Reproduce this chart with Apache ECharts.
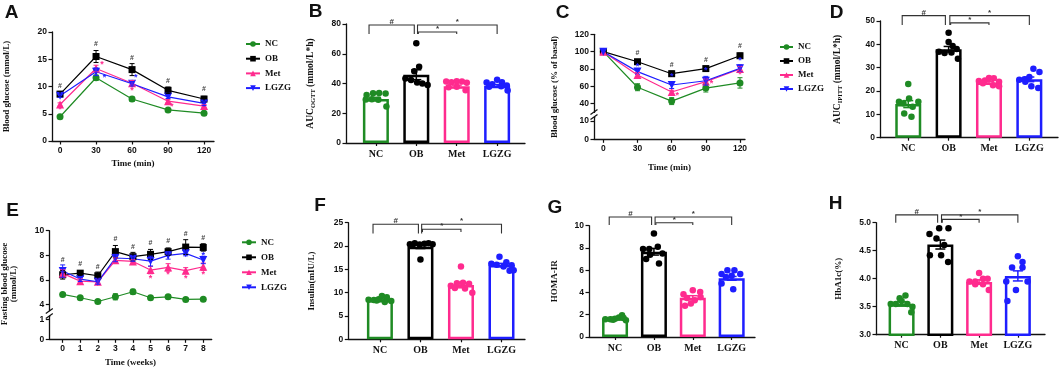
<!DOCTYPE html>
<html>
<head>
<meta charset="utf-8">
<script src="https://cdn.jsdelivr.net/npm/echarts@6/dist/echarts.min.js"></script>
<style>
  html, body { margin: 0; padding: 0; background: #fff; }
  #main { width: 1059px; height: 370px; }
</style>
</head>
<body>
<div id="main"></div>
<script>
// groups and their look
var groups = ['NC', 'OB', 'Met', 'LGZG'];
var groupColors = ['#1f8b24', '#000000', '#ff2b8e', '#1e1eff'];
var groupSymbols = ['circle', 'rect', 'triangle', 'triangle'];
var groupRotate = [0, 0, 0, 180];
var groupSymbolSize = [7, 7, 8, 8];

// A - OGTT blood glucose (mmol/L)
var ogttTime = [0, 30, 60, 90, 120];
var ogttMeans = [
  [4.45, 11.6, 7.7, 5.7, 5.1],
  [8.6, 15.5, 13.1, 9.3, 7.7],
  [6.7, 13.3, 10.6, 7.3, 6.4],
  [8.3, 12.7, 10.5, 8.1, 6.9]
];
var ogttSems = [
  [0.2, 0.5, 0.4, 0.2, 0.2],
  [0.5, 1.1, 1.1, 0.6, 0.5],
  [0.3, 0.6, 0.5, 0.3, 0.3],
  [0.3, 0.7, 0.4, 0.3, 0.4]
];
var ogttHash = [[0, 10.1], [30, 17.7], [60, 15.2], [90, 11], [120, 9.5]];
var ogttStarMet = [[0, 5.7], [35, 14.1], [60, 9.2], [93, 6.4]];
var ogttStarLGZG = [[37, 11.6], [63, 11.6]];

// B - AUC OGTT
var aucOgttMean = [29.6, 45.9, 38.1, 38.5];
var aucOgttSem = [1.1, 3.3, 0.8, 0.8];
var aucOgttDots = [
  [[-0.23, 32.3], [-0.07, 33.4], [0.08, 33.6], [0.24, 33.2], [-0.25, 29.3], [-0.1, 29.4], [0.06, 29.1], [0.26, 24.5]],
  [[0, 67], [0.07, 51.3], [-0.05, 48.2], [-0.27, 43.3], [-0.13, 42.4], [0.02, 40.6], [0.15, 40], [0.28, 39]],
  [[-0.26, 41.3], [-0.13, 40.8], [0, 41.5], [0.13, 41.3], [0.25, 40.5], [-0.2, 37.5], [0, 37.8], [0.22, 35.5]],
  [[-0.26, 40.6], [-0.12, 39.5], [0, 42.5], [0.12, 40.8], [0.24, 38.6], [-0.2, 37.8], [0.1, 38.2], [0.26, 35.3]]
];
var aucOgttBrackets = [[-0.17, 0.95, 79.3, 73.3], [1.03, 3, 79.3, 73.3], [1.05, 2, 74.6, 73.3]];

// C - IPITT blood glucose (% of basal)
var ipittTime = [0, 30, 60, 90, 120];
var ipittMeans = [
  [100, 59, 43, 58, 64],
  [100, 88.4, 74.6, 80.5, 95.3],
  [100, 73, 53.5, 65.5, 80],
  [100, 77, 61.6, 66.5, 80.8]
];
var ipittSems = [
  [0, 4, 4, 4.5, 6],
  [0, 2, 3, 2.5, 3],
  [0, 3, 2, 3, 3],
  [0, 3, 4, 5, 4]
];
var ipittHash = [[30, 98], [60, 84], [90, 90.4], [120, 107]];
var ipittStarMet = [[30, 71.9], [65, 49], [95, 63], [120, 74]];
var ipittStarLGZG = [[30, 82.7], [60, 71.9], [90, 77.7], [120, 90]];

// D - AUC IPITT
var aucIpittMean = [14.4, 37.9, 23.7, 25];
var aucIpittSem = [1.5, 1.2, 0.5, 1.0];
var aucIpittDots = [
  [[0, 23], [-0.23, 15.4], [-0.12, 14.8], [0.02, 16.8], [0.25, 15.4], [0.11, 13.3], [-0.1, 10.4], [0.08, 9]],
  [[0, 45], [0, 41], [0.1, 39.3], [-0.24, 36.8], [-0.1, 36.3], [0.07, 36.5], [0.23, 33.8], [0.2, 38]],
  [[-0.25, 24.3], [-0.1, 24.5], [0, 25.6], [0.12, 25.5], [0.25, 24], [-0.15, 23.3], [0.1, 22.5], [0.25, 22]],
  [[-0.25, 24.8], [-0.12, 25], [0, 26], [0.1, 29.5], [0.25, 28.2], [-0.1, 24], [0.05, 22], [0.22, 21.3]]
];
var aucIpittBrackets = [[-0.15, 0.92, 52.3, 48.3], [1.03, 3, 52.3, 48.3], [1.05, 2, 49.2, 48.3]];

// E - fasting blood glucose (mmol/L)
var fbgWeek = [0, 1, 2, 3, 4, 5, 6, 7, 8];
var fbgMeans = [
  [4.82, 4.55, 4.25, 4.63, 5.04, 4.55, 4.63, 4.42, 4.44],
  [6.42, 6.55, 6.34, 8.3, 7.89, 8.08, 8.3, 8.67, 8.64],
  [6.53, 5.9, 5.85, 7.59, 7.5, 6.8, 7.02, 6.75, 7.07],
  [6.72, 6.07, 5.85, 7.78, 7.72, 7.53, 7.99, 8.16, 7.62]
];
var fbgSems = [
  [0.1, 0.1, 0.15, 0.25, 0.2, 0.15, 0.15, 0.15, 0.1],
  [0.35, 0.2, 0.3, 0.5, 0.35, 0.4, 0.3, 0.6, 0.3],
  [0.3, 0.2, 0.2, 0.2, 0.15, 0.3, 0.3, 0.25, 0.3],
  [0.5, 0.2, 0.2, 0.3, 0.2, 0.4, 0.3, 0.2, 0.3]
];
var fbgHash = [[0, 7.6], [1, 7.3], [2, 7.07], [3, 9.3], [4, 8.65], [5, 8.97], [6, 9.16], [7, 9.7], [8, 9.38]];
var fbgStarMet = [[5, 6.13], [6, 6.4], [7, 6.13], [8, 6.4]];
var fbgStarLGZG = [[8, 8.02]];

// F - insulin (mIU/L)
var insulinMean = [8.4, 19.86, 11.64, 15.93];
var insulinSem = [0.2, 0.4, 0.6, 0.35];
var insulinDots = [
  [[-0.28, 8.5], [-0.15, 8.4], [-0.03, 8.6], [0.05, 9.3], [0.17, 9.0], [0.28, 8.2], [-0.08, 8.3], [0.12, 8.0]],
  [[-0.26, 20.4], [-0.14, 20.6], [-0.02, 20.3], [0.1, 20.5], [0.2, 20.6], [0.3, 20.4], [-0.2, 20.1], [0, 17.1]],
  [[0, 15.6], [-0.25, 11.5], [-0.1, 12.0], [0.05, 12.1], [0.2, 11.9], [-0.15, 11.0], [0.1, 10.9], [0.28, 10.0]],
  [[-0.05, 17.7], [-0.25, 16.2], [-0.12, 16.0], [0.12, 16.5], [0.25, 15.9], [0.05, 15.6], [0.2, 14.7], [0.3, 14.8]]
];
var insulinBrackets = [[-0.17, 0.95, 24.66, 22.7], [1.03, 3, 24.66, 22.7], [1.05, 2, 23.6, 23.0]];

// G - HOMA-IR
var homaMean = [1.68, 7.66, 3.53, 5.27];
var homaSem = [0.07, 0.3, 0.18, 0.17];
var homaDots = [
  [[-0.25, 1.6], [-0.12, 1.6], [0, 1.65], [0.1, 1.75], [0.18, 1.95], [0.28, 1.5], [-0.05, 1.55], [0.22, 1.7]],
  [[0, 9.3], [-0.28, 7.9], [-0.12, 7.9], [0.1, 8.1], [-0.1, 7.4], [0.22, 7.5], [0.13, 6.6], [-0.2, 7.0]],
  [[-0.24, 3.85], [0, 4.2], [0.19, 4.05], [-0.15, 3.5], [0.05, 3.3], [0.2, 3.6], [-0.05, 3.0], [-0.2, 2.8]],
  [[-0.26, 5.65], [-0.11, 6.0], [0.07, 6.0], [0.22, 5.65], [-0.15, 5.4], [0, 5.5], [-0.26, 4.8], [0.04, 4.3]]
];
var homaBrackets = [[-0.15, 0.94, 10.78, 10.06], [1.03, 3, 10.78, 10.06], [1.05, 2, 10.27, 10.06]];

// H - HbA1c (%)
var hba1cMean = [3.55, 4.61, 3.94, 4.05];
var hba1cSem = [0.04, 0.08, 0.04, 0.09];
var hba1cDots = [
  [[-0.28, 3.55], [-0.15, 3.55], [0, 3.6], [0.15, 3.55], [0.28, 3.5], [-0.05, 3.65], [0.1, 3.7], [0.25, 3.4]],
  [[-0.28, 4.8], [-0.03, 4.9], [0.21, 4.9], [-0.1, 4.72], [0.1, 4.6], [-0.27, 4.42], [0.02, 4.42], [0.2, 4.3]],
  [[-0.25, 3.95], [-0.1, 3.95], [0, 4.1], [0.1, 4.0], [0.22, 4.0], [-0.1, 3.9], [0.1, 3.9], [0.25, 3.8]],
  [[0, 4.4], [0.12, 4.3], [-0.15, 4.2], [0.12, 4.2], [-0.3, 3.95], [0.25, 3.95], [-0.05, 3.8], [-0.27, 3.6]]
];
var hba1cBrackets = [[-0.15, 0.93, 5.14, 5.0], [1.03, 3, 5.14, 5.0], [1.05, 2, 5.06, 5.0]];

var bracketMarks = ['#', '*', '*'];

var SANS = 'Liberation Sans, Arial, sans-serif';
var SERIF = 'Liberation Serif, Times New Roman, serif';
var INK = '#111';

var grids = [], xAxes = [], yAxes = [], series = [], legends = [], graphics = [];

function merge(a, b) {
  for (var k in b) {
    if (b[k] && typeof b[k] === 'object' && !Array.isArray(b[k]) && a[k] && typeof a[k] === 'object') merge(a[k], b[k]);
    else a[k] = b[k];
  }
  return a;
}

function axisBase(extra) {
  var ax = {
    type: 'value',
    splitLine: { show: false },
    axisLine: { show: true, onZero: false, lineStyle: { color: INK, width: 1.3 } },
    axisTick: { show: true, length: 3.5, lineStyle: { color: INK, width: 1.2 } },
    axisLabel: { fontFamily: SANS, fontWeight: 'bold', fontSize: 8.5, color: INK, margin: 5 },
    nameLocation: 'middle',
    nameTextStyle: { fontFamily: SERIF, fontWeight: 'bold', fontSize: 9, color: INK }
  };
  return merge(ax, extra);
}

function addCartesian(box, xOpt, yOpt) {
  var gi = grids.length;
  grids.push(box);
  xOpt.gridIndex = gi;
  yOpt.gridIndex = gi;
  xAxes.push(axisBase(xOpt));
  yAxes.push(axisBase(yOpt));
  return gi;
}

function errorBars(ai, pts, color, cap, lw) {
  series.push({
    type: 'custom', xAxisIndex: ai, yAxisIndex: ai, silent: true, z: 4,
    data: pts,
    renderItem: function (params, api) {
      var x = api.value(0), m = api.value(1), s = api.value(2);
      if (!s) return { type: 'group', children: [] };
      var a = api.coord([x, m + s]), b = api.coord([x, m - s]);
      var st = { stroke: color, lineWidth: lw };
      return { type: 'group', children: [
        { type: 'line', shape: { x1: a[0], y1: a[1], x2: b[0], y2: b[1] }, style: st },
        { type: 'line', shape: { x1: a[0] - cap, y1: a[1], x2: a[0] + cap, y2: a[1] }, style: st },
        { type: 'line', shape: { x1: b[0] - cap, y1: b[1], x2: b[0] + cap, y2: b[1] }, style: st }
      ] };
    }
  });
}

function textMarks(ai, pts, text, color, size) {
  series.push({
    type: 'custom', xAxisIndex: ai, yAxisIndex: ai, silent: true, clip: false, z: 5,
    data: pts,
    renderItem: function (params, api) {
      var p = api.coord([api.value(0), api.value(1)]);
      return { type: 'text', x: p[0], y: p[1], style: {
        text: text, fill: color, font: 'bold ' + size + 'px ' + SANS,
        align: 'center', verticalAlign: 'middle', textAlign: 'center', textVerticalAlign: 'middle' } };
    }
  });
}

function brackets(ai, list) {
  series.push({
    type: 'custom', xAxisIndex: ai, yAxisIndex: ai, silent: true, clip: false, z: 5,
    data: list,
    renderItem: function (params, api) {
      var x1 = api.value(0), x2 = api.value(1), top = api.value(2), leg = api.value(3);
      var p1 = api.coord([x1, leg]), p2 = api.coord([x1, top]), p3 = api.coord([x2, top]), p4 = api.coord([x2, leg]);
      return { type: 'group', children: [
        { type: 'polyline', shape: { points: [p1, p2, p3, p4] }, style: { stroke: '#333', lineWidth: 1.1, fill: null } },
        { type: 'text', x: (p2[0] + p3[0]) / 2, y: p2[1] + 1, style: {
          text: bracketMarks[params.dataIndex], fill: '#333', font: 'bold 8px ' + SANS,
          align: 'center', verticalAlign: 'bottom', textAlign: 'center', textVerticalAlign: 'bottom' } }
      ] };
    }
  });
}

function linePanel(ai, xs, means, sems) {
  groups.forEach(function (g, i) {
    series.push({
      type: 'line', name: g, xAxisIndex: ai, yAxisIndex: ai, z: 3,
      data: xs.map(function (x, k) { return [x, means[i][k]]; }),
      symbol: groupSymbols[i], symbolRotate: groupRotate[i], symbolSize: groupSymbolSize[i],
      lineStyle: { width: 1.2, color: groupColors[i] },
      itemStyle: { color: groupColors[i] }
    });
    errorBars(ai, xs.map(function (x, k) { return [x, means[i][k], sems[i][k]]; }), groupColors[i], 2.5, 1);
  });
}

function barPanel(ai, means, sems, dots, br) {
  series.push({
    type: 'bar', xAxisIndex: ai, yAxisIndex: ai, barWidth: 26, silent: true, z: 2,
    data: means.map(function (m, i) {
      return { value: [i, m], itemStyle: { color: '#fff', borderColor: groupColors[i], borderWidth: 2.5 } };
    })
  });
  groups.forEach(function (g, i) {
    series.push({
      type: 'scatter', xAxisIndex: ai, yAxisIndex: ai, silent: true, z: 3,
      symbolSize: 6.5, itemStyle: { color: groupColors[i], opacity: 1 },
      data: dots[i].map(function (p) { return [i + p[0], p[1]]; })
    });
    errorBars(ai, [[i, means[i], sems[i]]], groupColors[i], 5, 1.5);
  });
  brackets(ai, br);
}

function catX(min, max) {
  return {
    min: min, max: max,
    axisTick: { customValues: [0, 1, 2, 3], length: 3 },
    axisLabel: { customValues: [0, 1, 2, 3], fontFamily: SERIF, fontSize: 10, margin: 6,
      formatter: function (v) { return groups[Math.round(v)]; } }
  };
}

function legendAt(left, top, itemWidth, gap) {
  legends.push({
    left: left, top: top, orient: 'vertical', itemWidth: itemWidth, itemHeight: 7, itemGap: gap,
    selectedMode: false, data: groups,
    textStyle: { fontFamily: SERIF, fontWeight: 'bold', fontSize: 9, color: INK, lineHeight: 9 }
  });
}

function label(text, x, y, font, rot) {
  graphics.push({ type: 'text', x: x, y: y, rotation: rot || 0, silent: true, style: {
    text: text, font: font, fill: INK, align: 'center', verticalAlign: 'middle',
    textAlign: 'center', textVerticalAlign: 'middle' } });
}

function breakMarks(x, y1, y2) {
  [y1, y2].forEach(function (y) {
    graphics.push({ type: 'line', silent: true, shape: { x1: x - 3.5, y1: y + 2.5, x2: x + 3.5, y2: y - 2.5 },
      style: { stroke: INK, lineWidth: 1.2 } });
  });
}

// ---- A ----
var aA = addCartesian({ left: 52, top: 32, width: 162, height: 109 },
  { min: -6.7, max: 128.3, axisTick: { customValues: ogttTime }, axisLabel: { customValues: ogttTime },
    name: 'Time (min)', nameGap: 18 },
  { min: 0, max: 20, interval: 5, name: 'Blood glucose (mmol/L)', nameGap: 41 });
linePanel(aA, ogttTime, ogttMeans, ogttSems);
textMarks(aA, ogttHash, '#', '#444', 7);
textMarks(aA, ogttStarMet, '*', groupColors[2], 9);
textMarks(aA, ogttStarLGZG, '*', groupColors[3], 9);
legendAt(240, 34.5, 14, 5.7);

// ---- B ----
var aB = addCartesian({ left: 346, top: 24, width: 179, height: 119 },
  catX(-0.74, 3.69),
  { min: 0, max: 80, interval: 20, name: '{t|AUC}{s|OGTT}{t| (mmol/L*h)}', nameGap: 29,
    nameTextStyle: { rich: {
      t: { fontFamily: SERIF, fontWeight: 'bold', fontSize: 9.5, color: INK },
      s: { fontFamily: SERIF, fontWeight: 'bold', fontSize: 6.5, color: INK, verticalAlign: 'bottom', padding: [5, 0, 0, 0] } } } });
barPanel(aB, aucOgttMean, aucOgttSem, aucOgttDots, aucOgttBrackets);

// ---- C (broken y axis) ----
var ipittTicks = [0, 30, 60, 90, 120];
var aCu = addCartesian({ left: 594, top: 34.3, width: 151, height: 78.1 },
  { min: -8.2, max: 124.4, show: false },
  { min: 30, max: 120, axisTick: { customValues: [40, 60, 80, 100, 120] }, axisLabel: { customValues: [40, 60, 80, 100, 120] } });
var aCl = addCartesian({ left: 594, top: 117.3, width: 151, height: 22 },
  { min: -8.2, max: 124.4, axisTick: { customValues: ipittTicks }, axisLabel: { customValues: ipittTicks },
    name: 'Time (min)', nameGap: 24 },
  { min: 0, max: 12, axisTick: { customValues: [0, 10] }, axisLabel: { customValues: [0, 10] } });
linePanel(aCu, ipittTime, ipittMeans, ipittSems);
textMarks(aCu, ipittHash, '#', '#444', 7);
textMarks(aCu, ipittStarMet, '*', groupColors[2], 9);
textMarks(aCu, ipittStarLGZG, '*', groupColors[3], 9);
legendAt(774, 37.5, 13, 5);
label('Blood glucose (% of basal)', 555, 87, 'bold 9px ' + SERIF, Math.PI / 2);
breakMarks(594, 112, 117);

// ---- D ----
var aD = addCartesian({ left: 880, top: 21, width: 178, height: 116.7 },
  catX(-0.70, 3.71),
  { min: 0, max: 50, interval: 10, name: '{t|AUC}{s|IPITT}{t| (mmol/L*h)}', nameGap: 36,
    nameTextStyle: { rich: {
      t: { fontFamily: SERIF, fontWeight: 'bold', fontSize: 9.5, color: INK },
      s: { fontFamily: SERIF, fontWeight: 'bold', fontSize: 6.5, color: INK, verticalAlign: 'bottom', padding: [5, 0, 0, 0] } } } });
barPanel(aD, aucIpittMean, aucIpittSem, aucIpittDots, aucIpittBrackets);

// ---- E (broken y axis) ----
var aEu = addCartesian({ left: 49.3, top: 230.7, width: 162.4, height: 80 },
  { min: -0.76, max: 8.48, show: false },
  { min: 3.5, max: 10, axisTick: { customValues: [4, 6, 8, 10] }, axisLabel: { customValues: [4, 6, 8, 10] } });
var aEl = addCartesian({ left: 49.3, top: 316.3, width: 162.4, height: 23 },
  { min: -0.76, max: 8.48, axisTick: { customValues: fbgWeek }, axisLabel: { customValues: fbgWeek },
    name: 'Time (weeks)', nameGap: 19 },
  { min: 0, max: 1.15, axisTick: { customValues: [0, 1] }, axisLabel: { customValues: [0, 1] } });
linePanel(aEu, fbgWeek, fbgMeans, fbgSems);
textMarks(aEu, fbgHash, '#', '#444', 7);
textMarks(aEu, fbgStarMet, '*', groupColors[2], 9);
textMarks(aEu, fbgStarLGZG, '*', groupColors[3], 9);
legendAt(236, 232.8, 14, 6);
label('Fasting blood glucose\n(mmol/L)', 9, 284, 'bold 9px ' + SERIF, Math.PI / 2);
breakMarks(49.3, 311, 316);

// ---- F ----
var aF = addCartesian({ left: 348.3, top: 222.7, width: 176.7, height: 116.6 },
  catX(-0.78, 3.58),
  { min: 0, max: 25, interval: 5, name: 'Insulin(mIU/L)', nameGap: 32 });
barPanel(aF, insulinMean, insulinSem, insulinDots, insulinBrackets);

// ---- G ----
var aG = addCartesian({ left: 589, top: 225.7, width: 166, height: 111.3 },
  catX(-0.67, 3.6),
  { min: 0, max: 10, interval: 2, name: 'HOMA-IR', nameGap: 30 });
barPanel(aG, homaMean, homaSem, homaDots, homaBrackets);

// ---- H ----
var aH = addCartesian({ left: 876, top: 222.7, width: 169, height: 112 },
  catX(-0.66, 3.7),
  { min: 3, max: 5, interval: 0.5, name: 'HbA1c(%)', nameGap: 33,
    axisLabel: { formatter: function (v) { return v.toFixed(1); } } });
barPanel(aH, hba1cMean, hba1cSem, hba1cDots, hba1cBrackets);

// panel letters
var letterFont = 'bold 19px ' + SANS;
label('A', 11.5, 12.5, letterFont);
label('B', 315.5, 12, letterFont);
label('C', 562.5, 12.5, letterFont);
label('D', 836.5, 12.5, letterFont);
label('E', 12.5, 211, letterFont);
label('F', 320, 205.5, letterFont);
label('G', 555, 207.5, letterFont);
label('H', 835.5, 204, letterFont);

var chart = echarts.init(document.getElementById('main'));
chart.setOption({
  animation: false,
  backgroundColor: '#fff',
  grid: grids,
  xAxis: xAxes,
  yAxis: yAxes,
  legend: legends,
  series: series,
  graphic: { elements: graphics }
});
</script>
</body>
</html>
